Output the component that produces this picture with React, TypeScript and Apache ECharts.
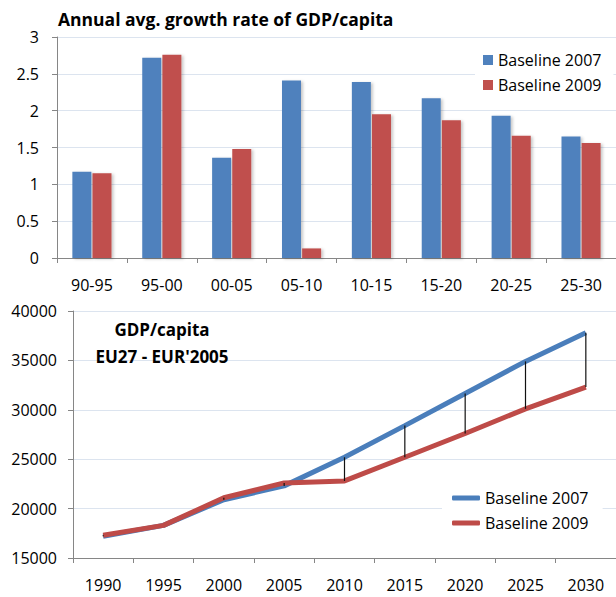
import React, { useEffect, useRef } from "react";
import * as echarts from "echarts";

const periodCategories = ["90-95", "95-00", "00-05", "05-10", "10-15", "15-20", "20-25", "25-30"];
const growth2007 = [1.17, 2.72, 1.36, 2.41, 2.39, 2.17, 1.93, 1.65];
const growth2009 = [1.15, 2.76, 1.48, 0.13, 1.95, 1.87, 1.66, 1.56];

const years = ["1990", "1995", "2000", "2005", "2010", "2015", "2020", "2025", "2030"];
const gdp2007 = [17200, 18300, 20900, 22300, 25200, 28400, 31650, 34900, 37800];
const gdp2009 = [17300, 18300, 21100, 22600, 22800, 25200, 27600, 30100, 32300];

const FONT = "Open Sans";
const AXIS_COLOR = "#868686";
const GRID_COLOR = "#DCE4EF";
const BLUE_BAR = "#4F81BD";
const RED_BAR = "#C0504D";
const BLUE_LINE = "#4A7EBB";
const RED_LINE = "#BE4B48";

export default function App() {
  const ref = useRef<HTMLDivElement>(null);

  useEffect(() => {
    if (!ref.current) return;
    const chart = echarts.init(ref.current, undefined, { renderer: "svg" });

    const highLow = years.map((_, i) => [i, gdp2007[i], gdp2009[i]]);

    const axisLabelStyle = { fontFamily: FONT, fontSize: 16, color: "#000" };

    chart.setOption({
      animation: false,
      backgroundColor: "#fff",
      title: [
        {
          text: "Annual avg. growth rate of GDP/capita",
          left: 58,
          top: 10,
          padding: 0,
          textStyle: { fontFamily: FONT, fontSize: 17.5, fontWeight: "bold", color: "#000" },
        },
        {
          text: "GDP/capita\nEU27 - EUR'2005",
          left: 162,
          top: 316,
          textAlign: "center",
          padding: 0,
          textStyle: {
            fontFamily: FONT,
            fontSize: 17,
            fontWeight: "bold",
            color: "#000",
            lineHeight: 27,
          },
        },
      ],
      legend: [
        {
          data: ["Baseline 2007", "Baseline 2009"],
          orient: "vertical",
          left: 475,
          top: 47,
          padding: [4, 12, 4, 8],
          backgroundColor: "#fff",
          icon: "rect",
          itemWidth: 10,
          itemHeight: 10,
          itemGap: 7,
          textStyle: { fontFamily: FONT, fontSize: 16, color: "#000", lineHeight: 18 },
        },
        {
          data: ["Baseline 2007 ", "Baseline 2009 "],
          orient: "vertical",
          left: 442,
          top: 480,
          padding: [9, 10, 8, 10],
          backgroundColor: "#fff",
          icon: "roundRect",
          itemWidth: 28,
          itemHeight: 5,
          itemGap: 7,
          textStyle: { fontFamily: FONT, fontSize: 16, color: "#000", lineHeight: 18 },
        },
      ],
      grid: [
        { left: 57, top: 37, width: 563, height: 221, containLabel: false },
        { left: 73, top: 311, width: 545, height: 247, containLabel: false },
      ],
      xAxis: [
        {
          type: "category",
          gridIndex: 0,
          data: periodCategories,
          boundaryGap: true,
          axisLine: { lineStyle: { color: AXIS_COLOR, width: 1 } },
          axisTick: { show: true, length: 5, lineStyle: { color: AXIS_COLOR } },
          axisLabel: { ...axisLabelStyle, margin: 19 },
        },
        {
          type: "category",
          gridIndex: 1,
          data: years,
          boundaryGap: true,
          axisLine: { lineStyle: { color: AXIS_COLOR, width: 1 } },
          axisTick: { show: true, length: 5, lineStyle: { color: AXIS_COLOR } },
          axisLabel: { ...axisLabelStyle, margin: 19 },
        },
      ],
      yAxis: [
        {
          type: "value",
          gridIndex: 0,
          min: 0,
          max: 3,
          interval: 0.5,
          axisLine: { show: true, lineStyle: { color: AXIS_COLOR, width: 1 } },
          axisTick: { show: true, length: 5, lineStyle: { color: AXIS_COLOR } },
          axisLabel: { ...axisLabelStyle, margin: 18 },
          splitLine: { show: true, lineStyle: { color: GRID_COLOR, width: 1 } },
        },
        {
          type: "value",
          gridIndex: 1,
          min: 15000,
          max: 40000,
          interval: 5000,
          axisLine: { show: true, lineStyle: { color: AXIS_COLOR, width: 1 } },
          axisTick: { show: true, length: 5, lineStyle: { color: AXIS_COLOR } },
          axisLabel: { ...axisLabelStyle, margin: 16, formatter: (v: number) => String(v) },
          splitLine: { show: true, lineStyle: { color: GRID_COLOR, width: 1 } },
        },
      ],
      series: [
        {
          name: "Baseline 2007",
          type: "bar",
          xAxisIndex: 0,
          yAxisIndex: 0,
          data: growth2007,
          barWidth: 19,
          barGap: "6%",
          itemStyle: {
            color: BLUE_BAR,
            shadowColor: "rgba(0,0,0,0.22)",
            shadowBlur: 3,
            shadowOffsetX: 2,
            shadowOffsetY: 1,
          },
          z: 3,
        },
        {
          name: "Baseline 2009",
          type: "bar",
          xAxisIndex: 0,
          yAxisIndex: 0,
          data: growth2009,
          barWidth: 19,
          barGap: "6%",
          itemStyle: {
            color: RED_BAR,
            shadowColor: "rgba(0,0,0,0.22)",
            shadowBlur: 3,
            shadowOffsetX: 2,
            shadowOffsetY: 1,
          },
          z: 3,
        },
        {
          name: "highlow",
          type: "custom",
          xAxisIndex: 1,
          yAxisIndex: 1,
          data: highLow,
          encode: { x: 0, y: [1, 2] },
          z: 4,
          renderItem: (params: any, api: any) => {
            const p1 = api.coord([api.value(0), api.value(1)]);
            const p2 = api.coord([api.value(0), api.value(2)]);
            return {
              type: "line",
              shape: { x1: p1[0], y1: p1[1], x2: p2[0], y2: p2[1] },
              style: { stroke: "#111", lineWidth: 1.2 },
            };
          },
        },
        {
          name: "Baseline 2007 ",
          type: "line",
          xAxisIndex: 1,
          yAxisIndex: 1,
          data: gdp2007,
          showSymbol: false,
          symbol: "none",
          lineStyle: { color: BLUE_LINE, width: 5 },
          itemStyle: { color: BLUE_LINE },
          z: 2,
        },
        {
          name: "Baseline 2009 ",
          type: "line",
          xAxisIndex: 1,
          yAxisIndex: 1,
          data: gdp2009,
          showSymbol: false,
          symbol: "none",
          lineStyle: { color: RED_LINE, width: 5 },
          itemStyle: { color: RED_LINE },
          z: 3,
        },
      ],
    });

    return () => {
      chart.dispose();
    };
  }, []);

  return (
    <div
      ref={ref}
      style={{ position: "absolute", left: 0, top: 0, width: 616, height: 597 }}
    />
  );
}
